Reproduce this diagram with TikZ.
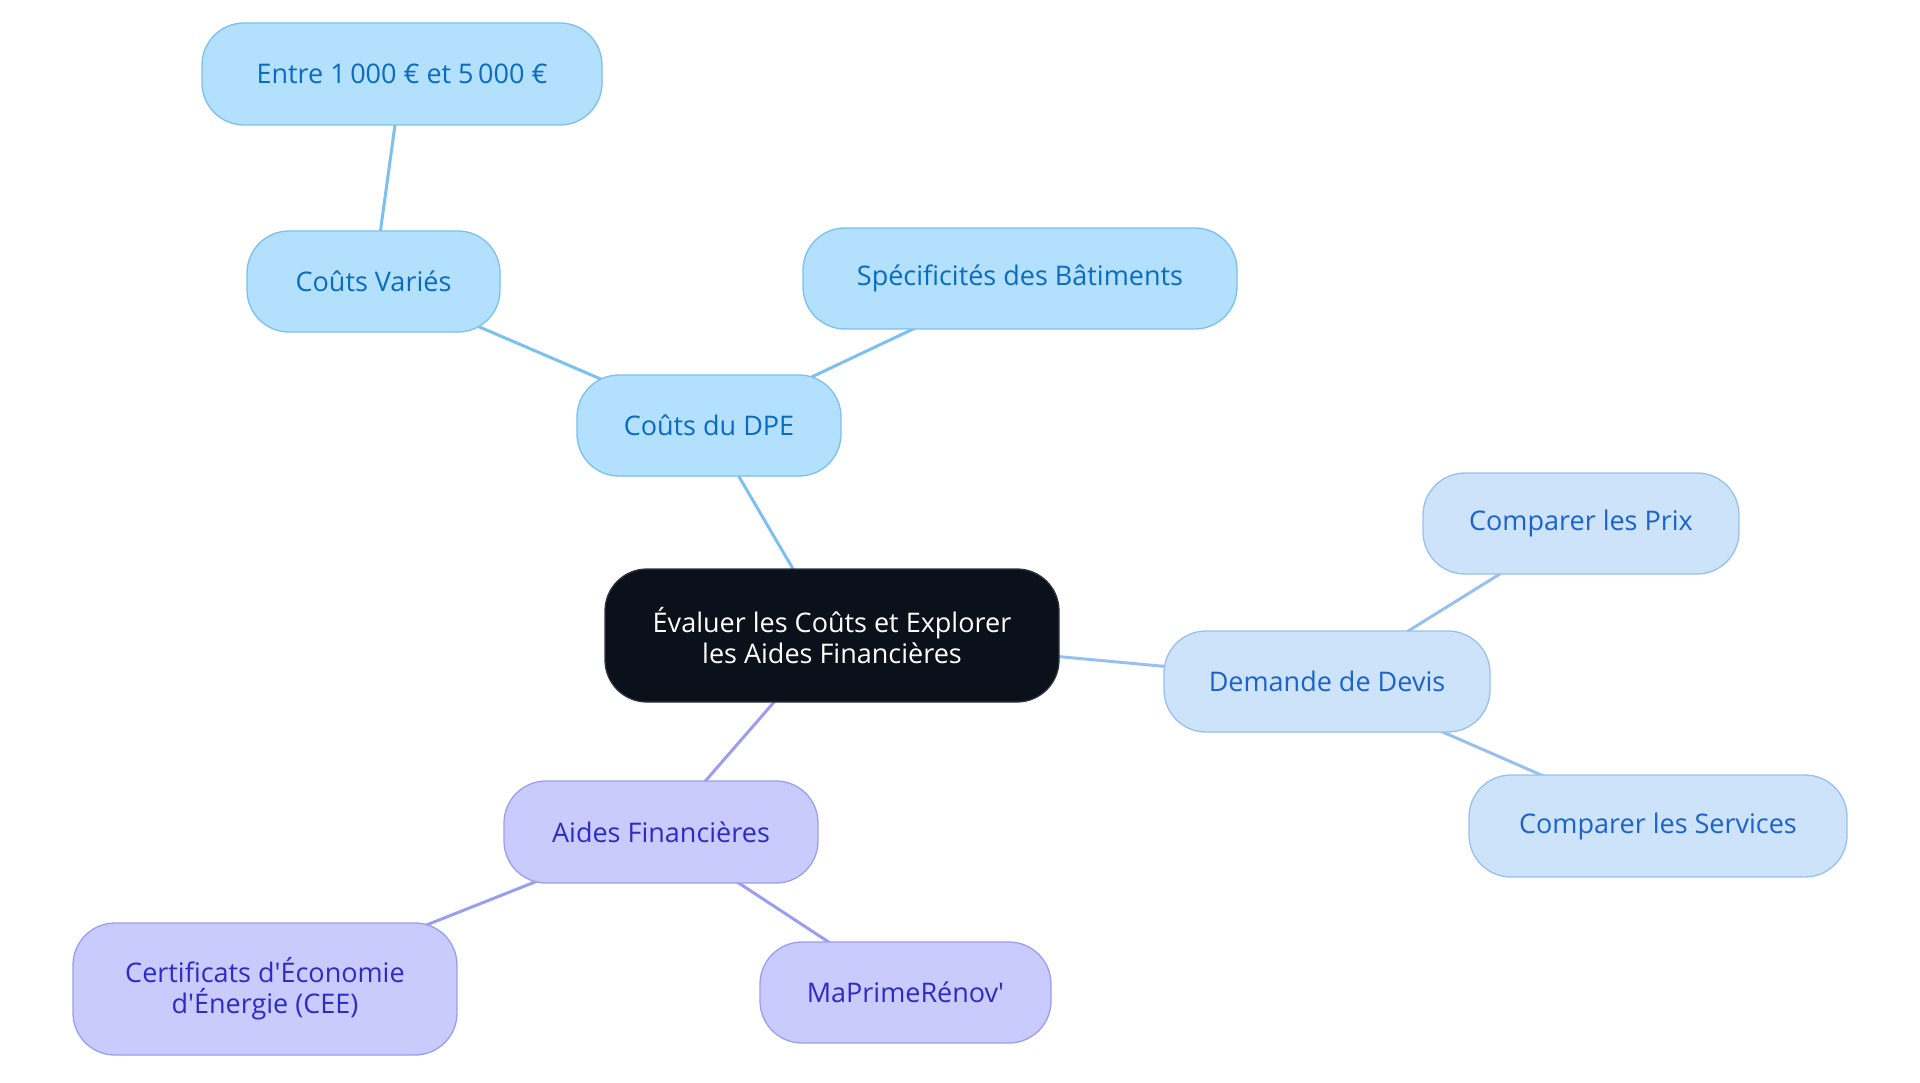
\documentclass[tikz,border=0pt]{standalone}
\usepackage{fontspec}
\setmainfont{Open Sans}
\usetikzlibrary{backgrounds}

\definecolor{dpefill}{HTML}{B3E0FD}
\definecolor{dpeline}{HTML}{7BC0EE}
\definecolor{dpetext}{HTML}{0B6BBF}
\definecolor{devisfill}{HTML}{CDE3FA}
\definecolor{devisline}{HTML}{96C1EE}
\definecolor{devistext}{HTML}{1B63CB}
\definecolor{aidesfill}{HTML}{C9CBFD}
\definecolor{aidesline}{HTML}{9B9EF0}
\definecolor{aidestext}{HTML}{2E2BC4}
\definecolor{rootfill}{HTML}{0B111A}
\definecolor{rootline}{HTML}{2F343C}

\begin{document}
\begin{tikzpicture}[x=1pt, y=-1pt,
    box/.style={rectangle, rounded corners=42pt, line width=1.3pt, inner sep=0pt,
                align=center, font=\fontsize{27}{31}\selectfont},
    dpebox/.style={box, fill=dpefill, draw=dpeline, text=dpetext},
    devisbox/.style={box, fill=devisfill, draw=devisline, text=devistext},
    aidesbox/.style={box, fill=aidesfill, draw=aidesline, text=aidestext},
    link/.style={line width=3pt}]
    \useasboundingbox (0,0) rectangle (1920,1083);

    % Central topic
    \node[box, fill=rootfill, draw=rootline, text=white,
          minimum width=454pt, minimum height=133pt] (root) at (832,635.5)
          {Évaluer les Coûts et Explorer\\les Aides Financières};

    % DPE costs branch
    \node[dpebox, minimum width=264pt, minimum height=101pt] (dpe) at (709,425.5) {Coûts du DPE};
    \node[dpebox, minimum width=253pt, minimum height=101pt] (varies) at (373.5,281.5) {Coûts Variés};
    \node[dpebox, minimum width=400pt, minimum height=102pt] (range) at (402,74) {Entre 1\,000 € et 5\,000 €};
    \node[dpebox, minimum width=434pt, minimum height=101pt] (specs) at (1020,278.5) {Spécificités des Bâtiments};

    % Quotes branch
    \node[devisbox, minimum width=326pt, minimum height=101pt] (devis) at (1327,681.5) {Demande de Devis};
    \node[devisbox, minimum width=316pt, minimum height=101pt] (prix) at (1581,523.5) {Comparer les Prix};
    \node[devisbox, minimum width=378pt, minimum height=102pt] (services) at (1658,826) {Comparer les Services};

    % Financial aid branch
    \node[aidesbox, minimum width=314pt, minimum height=102pt] (aides) at (661,832) {Aides Financières};
    \node[aidesbox, minimum width=384pt, minimum height=132pt] (cee) at (265,989)
          {Certificats d\textquotesingle Économie\\d\textquotesingle Énergie (CEE)};
    \node[aidesbox, minimum width=291pt, minimum height=101pt] (prime) at (905.5,992.5) {MaPrimeRénov\textquotesingle};

    % Connectors
    \begin{scope}[on background layer]
        \draw[link, dpeline] (root.center) -- (dpe.center);
        \draw[link, dpeline] (dpe.center) -- (varies.center);
        \draw[link, dpeline] (varies.center) -- (range.center);
        \draw[link, dpeline] (dpe.center) -- (specs.center);
        \draw[link, devisline] (root.center) -- (devis.center);
        \draw[link, devisline] (devis.center) -- (prix.center);
        \draw[link, devisline] (devis.center) -- (services.center);
        \draw[link, aidesline] (root.center) -- (aides.center);
        \draw[link, aidesline] (aides.center) -- (cee.center);
        \draw[link, aidesline] (aides.center) -- (prime.center);
    \end{scope}
\end{tikzpicture}
\end{document}
